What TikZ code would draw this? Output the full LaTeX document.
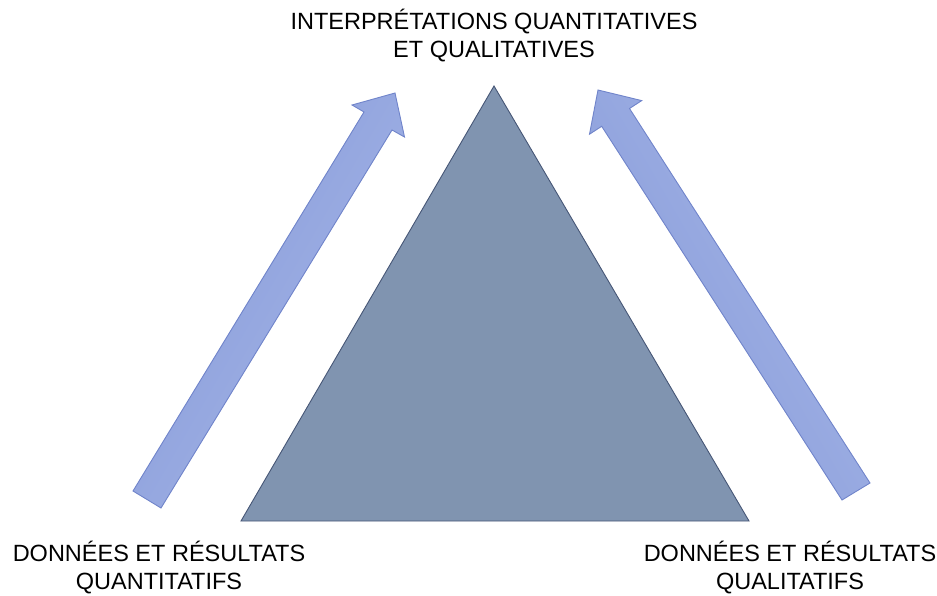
\documentclass[tikz,border=0pt]{standalone}
\usepackage{fontspec}
\setmainfont{Liberation Sans}
\definecolor{trifill}{RGB}{128,148,176}
\definecolor{tridraw}{RGB}{70,86,118}
\definecolor{arrlight}{RGB}{166,182,232}
\definecolor{arrdark}{RGB}{134,154,216}
\definecolor{arrdraw}{RGB}{112,132,202}
\tikzset{
  lbl/.style={font=\fontsize{23.5}{28}\selectfont, align=center, inner sep=0pt, text=black},
  tri/.style={fill=trifill, draw=tridraw, line width=0.9pt, line join=miter},
  bigarrow/.style={draw=arrdraw, line width=0.9pt, line join=miter},
}
\begin{document}
\begin{tikzpicture}[x=1pt,y=-1pt]
\useasboundingbox (0,0) rectangle (937,596);
% triangle
\draw[tri] (494,86) -- (749,521) -- (241,521) -- cycle;
% left arrow
\draw[bigarrow, left color=arrdark, right color=arrlight, shading angle=60] (133,491) -- (364,112) -- (352,105) -- (395,93) -- (404.5,137) -- (392,130) -- (161,508) -- cycle;
% right arrow
\draw[bigarrow, left color=arrdark, right color=arrlight, shading angle=120] (870,483) -- (629.5,108.5) -- (641.7,100.6) -- (598,90) -- (589.5,134.2) -- (601.7,126.3) -- (842,500) -- cycle;
% labels
\node[lbl] (top) at (494,36) {INTERPRÉTATIONS QUANTITATIVES\\ET QUALITATIVES};
\node[lbl] (bl) at (159,568) {DONNÉES ET RÉSULTATS\\QUANTITATIFS};
\node[lbl] (br) at (790,568) {DONNÉES ET RÉSULTATS\\QUALITATIFS};
\end{tikzpicture}
\end{document}
